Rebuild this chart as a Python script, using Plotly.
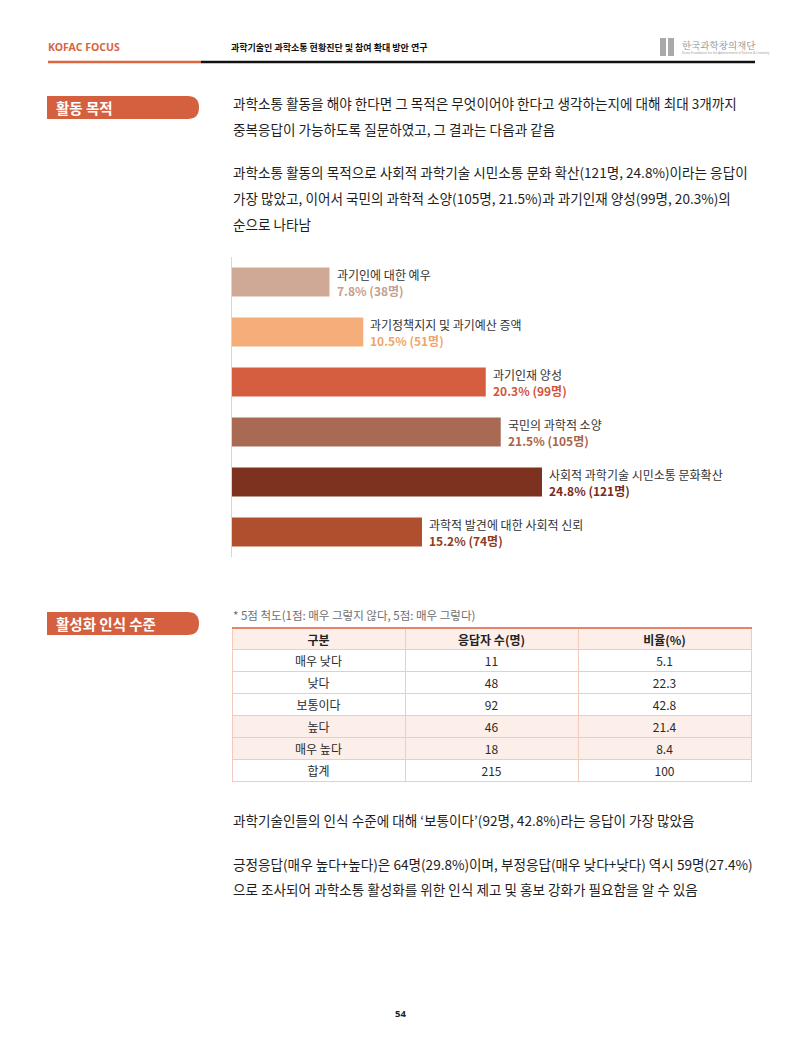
import plotly.graph_objects as go

W, H = 800, 1056
FONT = "Noto Sans CJK KR"

# ---------------- data ----------------
purpose_labels = [
    "과기인에 대한 예우",
    "과기정책지지 및 과기예산 증액",
    "과기인재 양성",
    "국민의 과학적 소양",
    "사회적 과학기술 시민소통 문화확산",
    "과학적 발견에 대한 사회적 신뢰",
]
purpose_pct = [7.8, 10.5, 20.3, 21.5, 24.8, 15.2]
purpose_n = [38, 51, 99, 105, 121, 74]
bar_colors = ["#cfa995", "#f5ad79", "#d45e3f", "#a86a53", "#7d3220", "#b04f2d"]
value_colors = ["#c4a08d", "#f0a46d", "#d2553a", "#a8644a", "#7a2c1a", "#8e3b20"]

table_header = ["구분", "응답자 수(명)", "비율(%)"]
level_labels = ["매우 낮다", "낮다", "보통이다", "높다", "매우 높다", "합계"]
level_n = [11, 48, 92, 46, 18, 215]
level_pct = [5.1, 22.3, 42.8, 21.4, 8.4, 100]
row_fills = ["#ffffff", "#ffffff", "#ffffff", "#fcefe9", "#fcefe9", "#ffffff"]

para1 = [
    "과학소통 활동을 해야 한다면 그 목적은 무엇이어야 한다고 생각하는지에 대해 최대 3개까지",
    "중복응답이 가능하도록 질문하였고, 그 결과는 다음과 같음",
]
para2 = [
    "과학소통 활동의 목적으로 사회적 과학기술 시민소통 문화 확산(121명, 24.8%)이라는 응답이",
    "가장 많았고, 이어서 국민의 과학적 소양(105명, 21.5%)과 과기인재 양성(99명, 20.3%)의",
    "순으로 나타남",
]
para3 = ["과학기술인들의 인식 수준에 대해 ‘보통이다’(92명, 42.8%)라는 응답이 가장 많았음"]
para4 = [
    "긍정응답(매우 높다+높다)은 64명(29.8%)이며, 부정응답(매우 낮다+낮다) 역시 59명(27.4%)",
    "으로 조사되어 과학소통 활성화를 위한 인식 제고 및 홍보 강화가 필요함을 알 수 있음",
]


def px(x):
    return x / W


def py(y):
    return 1 - y / H


fig = go.Figure()

# ---------------- bar chart ----------------
fig.add_trace(go.Bar(
    x=purpose_pct, y=purpose_labels, orientation="h",
    marker=dict(color=bar_colors, line=dict(width=0)),
    width=0.58, hoverinfo="skip", showlegend=False,
))

annotations = []
for lab, p, n, vc in zip(purpose_labels, purpose_pct, purpose_n, value_colors):
    annotations.append(dict(
        x=p, y=lab, xref="x", yref="y", xanchor="left", yanchor="middle",
        xshift=5, yshift=0, showarrow=False, align="left",
        text=f"{lab}<br><b><span style='color:{vc}'>{p}% ({n}명)</span></b>",
        font=dict(family=FONT, size=12, color="#333333"),
    ))

# ---------------- table ----------------
fig.add_trace(go.Table(
    domain=dict(x=[px(232), px(752)], y=[py(812), py(628)]),
    columnwidth=[1, 1, 1],
    header=dict(
        values=table_header,
        fill_color="#fcefe9", line=dict(color="#f2cbbd", width=1),
        height=21, align="center",
        font=dict(family=FONT, size=12, color="#222222", weight="bold"),
    ),
    cells=dict(
        values=[level_labels, [str(v) for v in level_n], [f"{v:g}" for v in level_pct]],
        fill_color=[row_fills] * 3, line=dict(color="#f2cbbd", width=1),
        height=22, align="center",
        font=dict(family=FONT, size=12, color="#2a2a2a"),
    ),
))


# ---------------- page text ----------------
def text_line(x, y, s, size=13.6, color="#1e1e1e", family=FONT, anchor="left"):
    annotations.append(dict(
        x=px(x), y=py(y), xref="paper", yref="paper", xanchor=anchor, yanchor="middle",
        showarrow=False, text=s, font=dict(family=family, size=size, color=color),
    ))


for i, s in enumerate(para1):
    text_line(231, 103 + 26 * i, s)
for i, s in enumerate(para2):
    text_line(231, 172 + 26 * i, s)
for i, s in enumerate(para3):
    text_line(231, 820 + 26 * i, s)
for i, s in enumerate(para4):
    text_line(231, 864 + 25 * i, s)

text_line(231, 615, "* 5점 척도(1점: 매우 그렇지 않다, 5점: 매우 그렇다)", size=11.5, color="#6e6e6e")

# header
text_line(46, 47, "<b>KOFAC FOCUS</b>", size=10.5, color="#d9663f", family="Noto Sans")
text_line(229, 47, "<b>과학기술인 과학소통 현황진단 및 참여 확대 방안 연구</b>", size=9, color="#111111")
text_line(680, 45, "한국과학창의재단", size=9.5, color="#8c8c8c", family="Noto Serif CJK KR, Noto Sans CJK KR")
text_line(680, 53, "Korea Foundation for the Advancement of Science &amp; Creativity", size=3, color="#9a9a9a", family="Noto Sans")

# page number
text_line(400, 1013, "<b>54</b>", size=9.5, color="#222222", family="Noto Sans", anchor="center")

# section labels
text_line(54, 107.5, "<b>활동 목적</b>", size=14.5, color="#ffffff")
text_line(54, 623.5, "<b>활성화 인식 수준</b>", size=14.5, color="#ffffff")

# ---------------- shapes ----------------
shapes = []


def label_box(y0, y1, x0=47, x1=199, color="#d5603f"):
    r = (y1 - y0) / 2
    ym = (y0 + y1) / 2
    path = (f"M {px(x0)},{py(y0)} L {px(x1 - r)},{py(y0)} "
            f"Q {px(x1)},{py(y0)} {px(x1)},{py(ym)} "
            f"Q {px(x1)},{py(y1)} {px(x1 - r)},{py(y1)} "
            f"L {px(x0)},{py(y1)} Z")
    shapes.append(dict(type="path", path=path, xref="paper", yref="paper",
                       fillcolor=color, line=dict(width=0), layer="below"))


label_box(96, 119)
label_box(612, 635)

# header rules
shapes.append(dict(type="line", xref="paper", yref="paper", x0=px(48), x1=px(201),
                   y0=py(62), y1=py(62), line=dict(color="#d9663f", width=2.5)))
shapes.append(dict(type="line", xref="paper", yref="paper", x0=px(201), x1=px(755),
                   y0=py(62), y1=py(62), line=dict(color="#111111", width=2.5)))

# logo mark
for lx in (660, 668):
    shapes.append(dict(type="rect", xref="paper", yref="paper", x0=px(lx), x1=px(lx + 6),
                       y0=py(56), y1=py(38), fillcolor="#a9a9a9", line=dict(width=0)))

# table top rule
shapes.append(dict(type="line", xref="paper", yref="paper", x0=px(232), x1=px(752),
                   y0=py(628), y1=py(628), line=dict(color="#e5846a", width=2), layer="above"))

fig.update_layout(
    width=W, height=H, autosize=False,
    margin=dict(l=0, r=0, t=0, b=0, pad=0),
    paper_bgcolor="#ffffff", plot_bgcolor="rgba(0,0,0,0)",
    showlegend=False,
    xaxis=dict(domain=[px(232), px(732)], range=[0, 40], visible=False, fixedrange=True),
    yaxis=dict(domain=[py(557), py(257)], categoryorder="array", categoryarray=purpose_labels,
               autorange="reversed", showline=True, linecolor="#d6d6d6", linewidth=1,
               showticklabels=False, ticks="", showgrid=False, zeroline=False, fixedrange=True),
    annotations=annotations,
    shapes=shapes,
    bargap=0.42,
)

fig.write_html("out.html")
